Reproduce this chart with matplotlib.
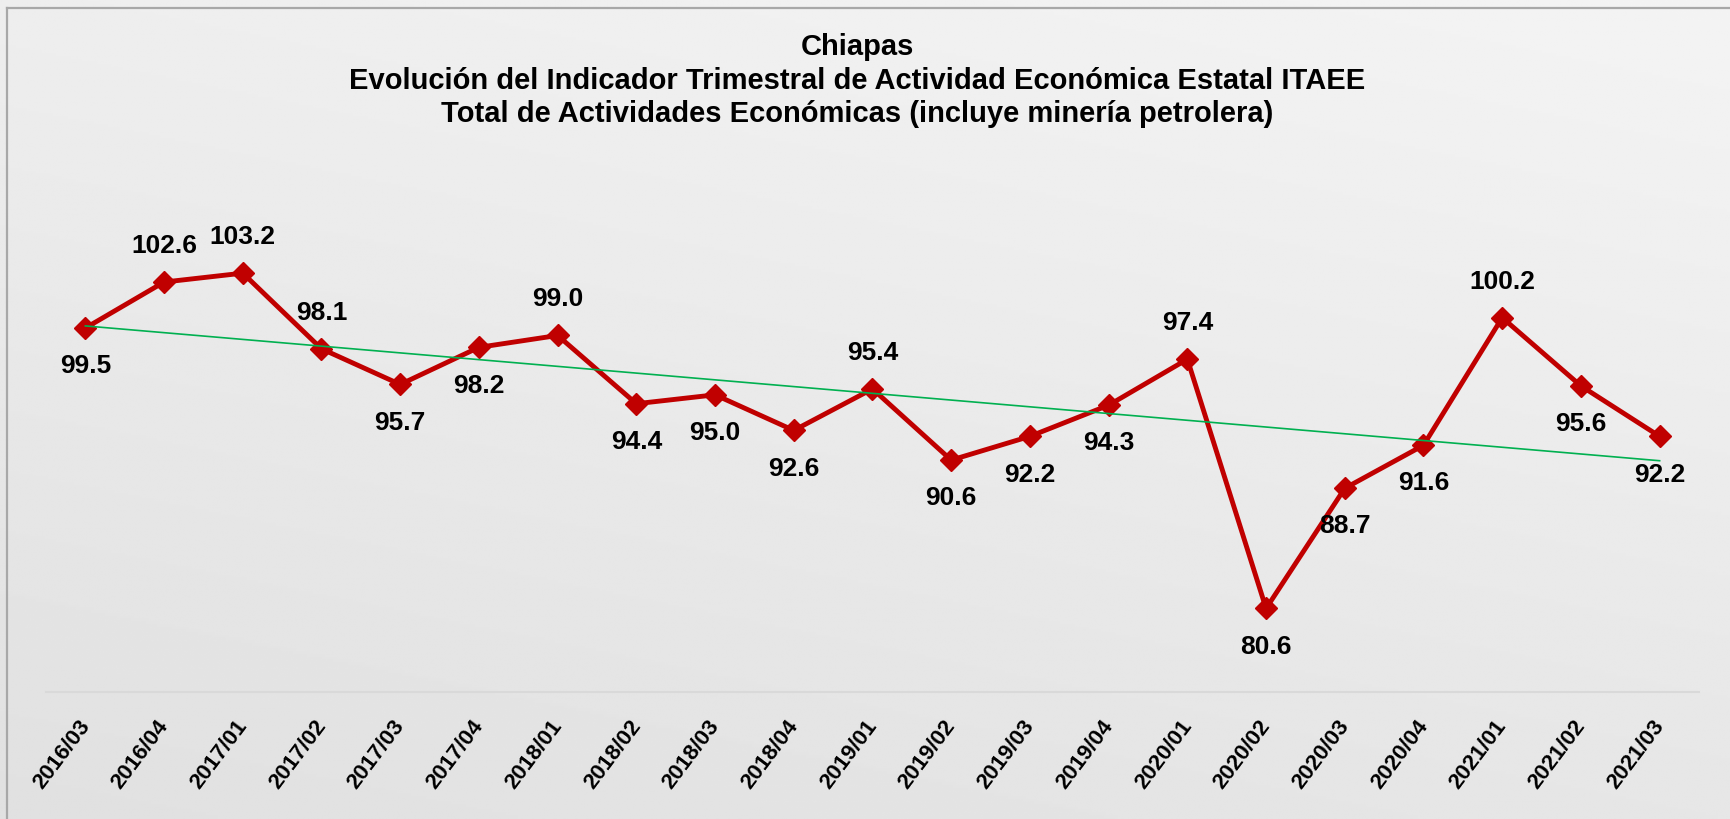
import numpy as np
import matplotlib
matplotlib.use("Agg")
import matplotlib.pyplot as plt
from matplotlib.transforms import ScaledTranslation
from matplotlib.lines import Line2D

plt.rcParams['font.family'] = ['Liberation Sans', 'DejaVu Sans']

# ---------------- data ----------------
periods = ["2016/03", "2016/04", "2017/01", "2017/02", "2017/03", "2017/04",
           "2018/01", "2018/02", "2018/03", "2018/04", "2019/01", "2019/02",
           "2019/03", "2019/04", "2020/01", "2020/02", "2020/03", "2020/04",
           "2021/01", "2021/02", "2021/03"]
itaee = [99.5, 102.6, 103.2, 98.1, 95.7, 98.2, 99.0, 94.4, 95.0, 92.6, 95.4,
         90.6, 92.2, 94.3, 97.4, 80.6, 88.7, 91.6, 100.2, 95.6, 92.2]
label_above = [False, True, True, True, False, False, True, False, False, False,
               True, False, False, False, True, False, False, False, True, False, False]

title_lines = ["Chiapas",
               "Evolución del Indicador Trimestral de Actividad Económica Estatal ITAEE",
               "Total de Actividades Económicas (incluye minería petrolera)"]

W, H, DPI = 1731, 819, 100
fig = plt.figure(figsize=(W / DPI, H / DPI), dpi=DPI)

# ---------------- background (smooth gradient) ----------------
bg = fig.add_axes([0, 0, 1, 1], zorder=-10)
bg.axis('off')
yy, xx = np.mgrid[0:1:300j, 0:1:600j]
shade = 0.955 - 0.075 * (0.7 * yy + 0.3 * (1 - xx))
bg.imshow(shade, cmap='gray', vmin=0, vmax=1, aspect='auto',
          extent=[0, 1, 0, 1], interpolation='bilinear')
bg.set_xlim(0, 1)
bg.set_ylim(0, 1)

# chart border (left and top visible)
bx, by = 7 / W, 1 - 8 / H
fig.add_artist(Line2D([bx, bx], [0, by], transform=fig.transFigure,
                      color='#a8a8a8', lw=1.6))
fig.add_artist(Line2D([bx, 1], [by, by], transform=fig.transFigure,
                      color='#a8a8a8', lw=1.6))

# ---------------- main axes ----------------
left_px, right_px = 46, 1699
ax = fig.add_axes([left_px / W, 0.1556, (right_px - left_px) / W, 0.6991 - 0.1556])
ax.patch.set_alpha(0)
x = np.arange(len(itaee))
ax.set_xlim(-0.5, len(itaee) - 0.5)
ax.set_ylim(75, 105)

for s in ['top', 'left', 'right']:
    ax.spines[s].set_visible(False)
ax.spines['bottom'].set_color('#d9d9d9')
ax.spines['bottom'].set_linewidth(1.5)
ax.set_yticks([])

ax.plot(x, itaee, color='#C00000', lw=3.5, marker='D', markersize=11.5,
        markeredgewidth=1, markeredgecolor='#C00000', zorder=3,
        solid_joinstyle='miter')

coef = np.polyfit(x, itaee, 1)
ax.plot(x, np.polyval(coef, x), color='#00B050', lw=1.2, zorder=4)

for xi, v, up in zip(x, itaee, label_above):
    off = 26 if up else -27.5
    ax.annotate(f"{v:.1f}", (xi, v), xytext=(0, off), textcoords='offset points',
                ha='center', va='center', fontsize=19, fontweight='bold',
                color='black', zorder=5, annotation_clip=False)

ax.set_xticks(x)
ax.set_xticklabels(periods, fontsize=16, fontweight='bold', color='black')
ax.tick_params(axis='x', length=0, pad=17.5)
offset = ScaledTranslation(-8 / DPI, 0, fig.dpi_scale_trans)
for lab in ax.get_xticklabels():
    lab.set_rotation(53)
    lab.set_rotation_mode('anchor')
    lab.set_ha('right')
    lab.set_va('top')
    lab.set_transform(lab.get_transform() + offset)

# ---------------- title ----------------
for ypx, txt in zip([47, 81, 114], title_lines):
    fig.text(857 / W, 1 - ypx / H, txt, ha='center', va='center',
             fontsize=21, fontweight='bold', color='black')

fig.savefig("out.png", dpi=DPI)
